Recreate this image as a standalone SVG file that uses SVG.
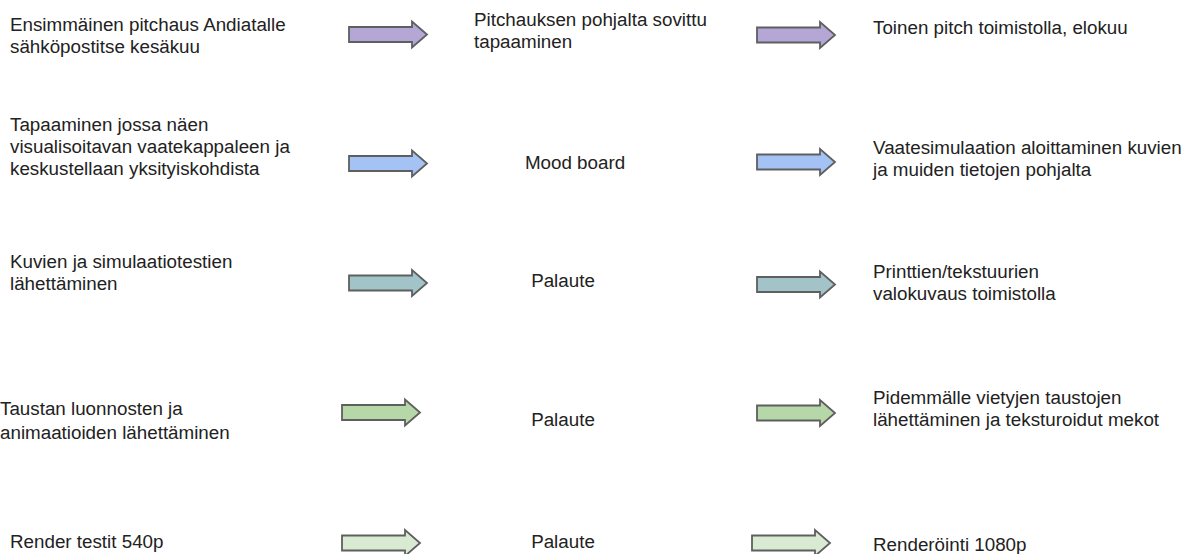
<svg xmlns="http://www.w3.org/2000/svg" xmlns:xlink="http://www.w3.org/1999/xlink" width="1187" height="554" viewBox="0 0 1187 554">
<style>
text{font-family:"Liberation Sans",Arial,sans-serif;font-size:18.8px;fill:#222}
.mid{text-anchor:middle}
.arr{stroke:#5f5f5f;stroke-width:1.8;stroke-linejoin:miter}
.p{fill:#b4a7d6}
.b{fill:#a4c2f4}
.t{fill:#a2c4c9}
.g{fill:#b6d7a8}
.lg{fill:#d9ead3}
</style>
<defs>
<path id="arrow" d="M0,-7.5 H63 V-13 L78,0 L63,13 V7.5 H0 Z"/>
</defs>
<rect width="1187" height="554" fill="#fff"/>
<g id="connectors">
<use xlink:href="#arrow" class="arr p" transform="translate(349,34.5)"/>
<use xlink:href="#arrow" class="arr p" transform="translate(757,35)"/>
<use xlink:href="#arrow" class="arr b" transform="translate(349,163.5)"/>
<use xlink:href="#arrow" class="arr b" transform="translate(757,162)"/>
<use xlink:href="#arrow" class="arr t" transform="translate(349,283)"/>
<use xlink:href="#arrow" class="arr t" transform="translate(757,284.5)"/>
<use xlink:href="#arrow" class="arr g" transform="translate(342,412.5)"/>
<use xlink:href="#arrow" class="arr g" transform="translate(757,413)"/>
<use xlink:href="#arrow" class="arr lg" transform="translate(342,543)"/>
<use xlink:href="#arrow" class="arr lg" transform="translate(752,543)"/>
</g>
<g id="n1a"><text x="10" y="31">Ensimmäinen pitchaus Andiatalle</text><text x="10" y="53">sähköpostitse kesäkuu</text></g>
<g id="n1b"><text x="474" y="26">Pitchauksen pohjalta sovittu</text><text x="474" y="48">tapaaminen</text></g>
<g id="n1c"><text x="873" y="34">Toinen pitch toimistolla, elokuu</text></g>
<g id="n2a"><text x="10" y="131">Tapaaminen jossa näen</text><text x="10" y="153">visualisoitavan vaatekappaleen ja</text><text x="10" y="175">keskustellaan yksityiskohdista</text></g>
<g id="n2b"><text class="mid" x="575" y="169">Mood board</text></g>
<g id="n2c"><text x="873" y="154">Vaatesimulaation aloittaminen kuvien</text><text x="873" y="176">ja muiden tietojen pohjalta</text></g>
<g id="n3a"><text x="10" y="268">Kuvien ja simulaatiotestien</text><text x="10" y="290">lähettäminen</text></g>
<g id="n3b"><text class="mid" x="563" y="287">Palaute</text></g>
<g id="n3c"><text x="873" y="278">Printtien/tekstuurien</text><text x="873" y="300">valokuvaus toimistolla</text></g>
<g id="n4a"><text x="0" y="415">Taustan luonnosten ja</text><text x="0" y="439">animaatioiden lähettäminen</text></g>
<g id="n4b"><text class="mid" x="563" y="426">Palaute</text></g>
<g id="n4c"><text x="873" y="404">Pidemmälle vietyjen taustojen</text><text x="873" y="426">lähettäminen ja teksturoidut mekot</text></g>
<g id="n5a"><text x="10" y="548">Render testit 540p</text></g>
<g id="n5b"><text class="mid" x="563" y="548">Palaute</text></g>
<g id="n5c"><text x="873" y="551">Renderöinti 1080p</text></g>
</svg>
